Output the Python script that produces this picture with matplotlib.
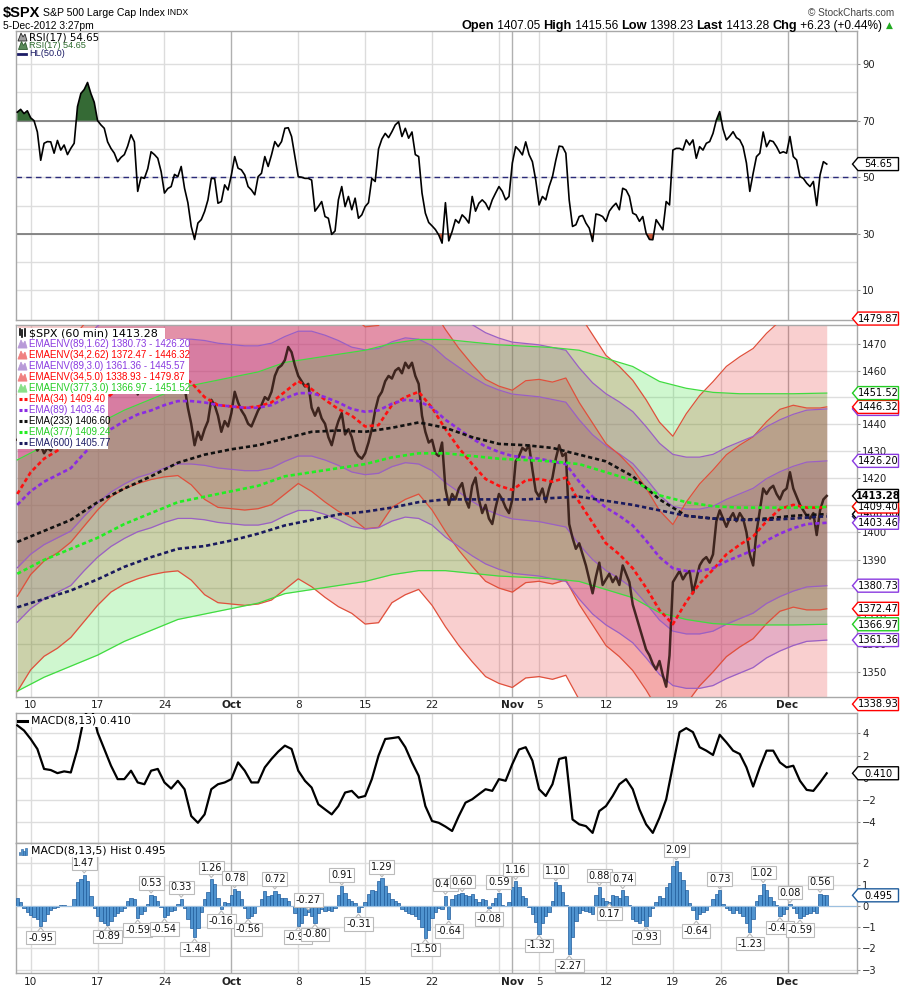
import numpy as np
import matplotlib
matplotlib.use("Agg")
import matplotlib.pyplot as plt
from matplotlib.patches import Polygon, Rectangle
from matplotlib.ticker import NullLocator, NullFormatter
from matplotlib.lines import Line2D

W, H, DPI = 900, 990, 100
SANS = ['Liberation Sans', 'DejaVu Sans']
plt.rcParams['font.family'] = ['DejaVu Sans']

# ---------------- data ----------------
# x axis: trading days since the Sep 7, 2012 open (Nov 23 half session = 4/7 day)
week_grid_t = [1, 6, 11, 16, 21, 26, 31, 36, 37, 39, 44, 49, 52.571, 57.571]
month_grid_t = [16, 37, 57.571]
date_tick_t = [1, 6, 11, 16, 21, 26, 31, 37, 39, 44, 49, 52.571, 57.571]
date_tick_lbl = ['10', '17', '24', 'Oct', '8', '15', '22', 'Nov', '5', '12', '19', '26', 'Dec']
month_lbls = ['Oct', 'Nov', 'Dec']

# $SPX 60-min, sampled every quarter trading day
price_q = [
    1434, 1436, 1435, 1437, 1436, 1433, 1430, 1432,
    1429, 1431, 1430, 1433, 1432, 1435, 1433, 1436,
    1435, 1437, 1450, 1457, 1460, 1466, 1472, 1466,
    1465, 1462, 1460, 1458, 1460, 1458, 1456, 1459,
    1460, 1462, 1463, 1460, 1451, 1455, 1457, 1458,
    1462, 1465, 1463, 1459, 1455, 1453, 1456, 1455,
    1458, 1462, 1454, 1446, 1440, 1432, 1437, 1434,
    1438, 1441, 1449, 1447, 1443, 1437, 1441, 1439,
    1444, 1452, 1448, 1445, 1443, 1440, 1439, 1442,
    1445, 1447, 1450, 1449, 1452, 1458, 1461, 1462,
    1464, 1469, 1467, 1462, 1458, 1456, 1454, 1455,
    1446, 1443, 1446, 1442, 1440, 1435, 1432, 1437,
    1441, 1444, 1436, 1438, 1435, 1430, 1428, 1427,
    1429, 1433, 1438, 1445, 1450, 1452, 1456, 1458,
    1457, 1460, 1461, 1459, 1463, 1461, 1463, 1458,
    1455, 1443, 1437, 1433, 1434, 1429, 1428, 1433,
    1416, 1410, 1414, 1412, 1416, 1418, 1412, 1409,
    1417, 1420, 1412, 1407, 1410, 1405, 1403, 1409,
    1414, 1412, 1409, 1407, 1412, 1426, 1428, 1431,
    1430, 1432, 1423, 1415, 1413, 1416, 1411, 1416,
    1420, 1427, 1432, 1428, 1429, 1403, 1398, 1394,
    1396, 1392, 1388, 1383, 1378, 1384, 1389, 1381,
    1383, 1385, 1382, 1384, 1381, 1388, 1385, 1382,
    1374, 1370, 1366, 1362, 1358, 1356, 1353, 1351,
    1354, 1349, 1345, 1356, 1382, 1384, 1386, 1383,
    1385, 1386, 1378, 1383, 1388, 1390, 1391, 1389,
    1392, 1404, 1408, 1405, 1402, 1405, 1407, 1404,
    1407, 1405, 1400, 1392, 1388, 1400, 1408, 1416,
    1414, 1416, 1417, 1414, 1412, 1415, 1416, 1422,
    1416, 1413, 1410, 1408, 1406, 1405, 1407, 1399,
    1408, 1412, 1413.28]

rsi_q = [
    73, 74, 72.5, 73.5, 71, 70, 66, 56,
    62, 62.6, 62.5, 58.5, 63, 59.6, 61.4, 58,
    60.2, 62, 75, 79.6, 81, 83.5, 79.6, 76.5,
    70, 68.5, 67.3, 62.5, 60.2, 58.5, 55.5, 57,
    58, 61, 65, 62.5, 45, 50, 49.6, 53,
    59, 58, 56.7, 52, 44.4, 46, 46.7, 51,
    50.2, 53.8, 46.1, 41, 32.6, 28, 33.8, 35,
    37.9, 42, 49.6, 49.5, 40.8, 41.4, 47.3, 45.5,
    50.8, 57.3, 53.2, 52.6, 50.8, 46.7, 45.5, 43.8,
    50.2, 51.4, 57.3, 53.8, 57.9, 62.6, 60.8, 62.6,
    67.3, 67.5, 64.4, 57.3, 50.2, 50, 49.6, 49.6,
    49, 38, 39.6, 41.4, 36.1, 35.5, 29.8, 31,
    42, 46.7, 39.6, 43.2, 38.5, 42.6, 35.5, 36.7,
    39.6, 41, 49.6, 48.5, 60, 63.5, 65.5, 64,
    66.1, 68.5, 69.6, 64.4, 67.3, 63.8, 66, 58,
    57.3, 44.4, 37.3, 34, 32.8, 31.5, 29.6, 26.7,
    41, 27.5, 30.8, 35, 33.8, 36.7, 35.5, 33.8,
    43.2, 38, 40.8, 42, 40.8, 38.5, 42, 44.4,
    46.7, 45, 42, 43.2, 55, 60.8, 59.6, 57.9,
    62.5, 58, 55.5, 49, 40.2, 43.2, 42, 46.7,
    50.2, 56, 61, 60.8, 58.5, 42, 32.6, 33.2,
    36.1, 36.5, 33.8, 32, 27.3, 37, 36.7, 36.1,
    34.4, 38, 39.6, 40.8, 38.5, 46.1, 45.5, 43.2,
    37.3, 36.7, 34.4, 36.1, 30.2, 28, 27.9, 35,
    33.2, 31.4, 41.4, 40.2, 59.6, 60.2, 60.2, 59.6,
    63.2, 61.4, 63.2, 56.7, 60.8, 59.6, 62, 62.6,
    65.5, 70.2, 73.2, 67, 63.2, 64.5, 66.1, 64,
    63.2, 60.8, 55, 45, 51.4, 57.3, 58.5, 66,
    60.8, 63, 62.6, 60.8, 58.5, 59, 58.5, 64.4,
    57.3, 56.1, 50.2, 49.6, 47.9, 46.7, 48.5, 40,
    50.8, 55.5, 54.65]

hist_q = [
    0.35, 0.2, -0.12, -0.27, -0.41, -0.51, -0.6, -0.95,
    -0.7, -0.38, -0.2, -0.11, -0.06, 0.02, 0.02, -0.03,
    0.0, 0.3, 1.1, 1.28, 1.47, 1.15, 0.45, -0.1,
    -0.5, -0.72, -0.8, -0.89, -0.7, -0.48, -0.33, -0.24,
    -0.08, 0.24, 0.37, 0.3, -0.59, -0.4, -0.25, 0.1,
    0.53, 0.47, 0.25, -0.05, -0.54, -0.42, -0.25, -0.18,
    0.08, 0.33, -0.12, -0.6, -1.05, -1.48, -1.05, -0.3,
    0.3, 0.65, 1.26, 1.05, 0.35, -0.16, 0.19, 0.15,
    0.53, 0.78, 0.7, 0.3, -0.1, -0.56, -0.48, -0.33,
    0.0, 0.3, 0.69, 0.45, 0.5, 0.72, 0.55, 0.37,
    0.37, 0.22, 0.0, -0.35, -0.93, -0.82, -0.42, -0.27,
    -0.5, -0.8, -0.35, -0.17, -0.25, -0.2, -0.25, -0.1,
    0.5, 0.91, 0.6, 0.3, 0.22, 0.12, -0.31, -0.05,
    0.2, 0.55, 0.73, 0.69, 1.15, 1.29, 0.95, 0.6,
    0.3, 0.22, 0.14, -0.17, -0.25, -0.33, -0.4, -0.48,
    -0.62, -0.98, -1.5, -1.15, -0.55, -0.28, -0.12, -0.17,
    0.47, -0.64, 0.3, 0.5, 0.58, 0.6, 0.52, 0.45,
    0.55, 0.3, 0.2, 0.33, 0.28, -0.08, 0.15, 0.37,
    0.59, 0.05, 0.0, 0.2, 0.9, 1.16, 0.9, 0.45,
    0.37, -0.05, -0.38, -0.78, -1.32, -0.8, -0.48, -0.3,
    0.25, 1.1, 1.0, 0.65, 0.05, -2.27, -1.45, -0.7,
    -0.35, -0.2, -0.25, -0.3, -0.4, 0.5, 0.88, 0.35,
    0.24, 0.17, 0.5, 0.45, 0.35, 0.74, 0.45, 0.05,
    -0.6, -0.72, -0.8, -0.65, -0.93, -0.5, -0.12, 0.2,
    0.45, 0.38, 0.9, 1.08, 1.86, 2.09, 1.6, 1.2,
    0.75, 0.15, -0.2, -0.64, -0.4, -0.3, -0.2, -0.02,
    0.3, 0.55, 0.73, 0.1, -0.1, -0.2, -0.35, -0.2,
    -0.33, -0.5, -0.8, -1.23, -0.6, 0.25, 0.5, 1.02,
    0.75, 0.42, 0.25, 0.05, -0.48, -0.38, -0.15, 0.08,
    -0.1, -0.35, -0.59, -0.48, -0.4, -0.33, -0.25, -0.33,
    0.56, 0.53, 0.495]

# MACD(8,13) line, sampled every half trading day
macd_h = [
    4.73, 4.27, 3.5, 2.6, 0.8, 0.7, 0.42, 0.58, 0.48, 2.6,
    5.5, 6.6, 4.1, 2.6, 1.1, -0.12, -0.12, 0.64, -0.42, -0.58,
    0.64, 0.8, -0.42, -0.97, -0.27, -1.03, -3.45, -4.06, -3.3, -1.03,
    -0.58, -0.42, -0.12, 1.39, 0.64, -0.42, -0.42, 0.94, 1.7, 2.36,
    2.9, 2.6, 0.64, -0.27, -0.88, -2.39, -2.85, -3.3, -2.55, -1.33,
    -1.18, -1.79, -1.64, -0.12, 2.0, 3.5, 3.58, 3.67, 2.76, 1.39,
    0.18, -2.55, -3.9, -4.06, -4.4, -4.8, -3.45, -2.24, -1.94, -1.48,
    -1.03, -1.18, -0.12, -0.27, 1.24, 2.55, 2.76, 1.55, -1.03, -1.64,
    -0.58, 1.7, 1.85, -3.76, -4.2, -4.36, -4.97, -3.0, -2.55, -1.64,
    -0.58, -0.12, -1.03, -2.85, -4.2, -4.97, -3.6, -1.94, 1.09, 4.12,
    4.48, 4.12, 2.76, 2.45, 2.06, 3.88, 3.2, 2.45, 2.15, 0.94,
    -0.79, 0.94, 2.45, 2.45, 1.39, 0.94, 1.09, -0.27, -1.09, -1.18,
    -0.42, 0.41]

# EMAs: daily samples (t = 0..60, 60.5)
ema34_d = [
    1414, 1422, 1427, 1430, 1434, 1440, 1446, 1451, 1454, 1456,
    1457.5, 1458.5, 1459, 1455.5, 1450, 1447, 1446.5, 1446, 1446.5, 1448,
    1452, 1456, 1453, 1449, 1445.5, 1443, 1439, 1439.5, 1447, 1450,
    1452, 1446, 1438, 1431, 1425, 1419.5, 1417, 1415.5, 1419, 1419.5,
    1418.5, 1420, 1411, 1403.5, 1396, 1392, 1387, 1380, 1372, 1367,
    1375, 1381.5, 1386.5, 1392, 1395.5, 1398.5, 1404, 1408.5, 1410, 1409,
    1409, 1409.4]
ema89_d = [
    1410, 1415, 1418.5, 1421, 1423.5, 1429, 1434, 1438, 1441, 1443.5,
    1445, 1447, 1448.5, 1448.5, 1448, 1447, 1446.5, 1446, 1446, 1447,
    1449.5, 1451.5, 1451.5, 1450, 1448, 1445.5, 1444.5, 1445, 1447.5, 1449,
    1448.5, 1446, 1441.5, 1438, 1434.5, 1431.5, 1429.5, 1428, 1427.5, 1427,
    1426, 1425, 1418.5, 1413, 1409, 1406, 1402.5, 1397, 1391, 1387,
    1386, 1386, 1387, 1389.5, 1391.5, 1393.5, 1397, 1399.5, 1401.5, 1403,
    1403.3, 1403.46]
# slow EMAs: every 2 trading days (t = 0, 2, ..., 60, 60.5)
ema233_2d = [1396.5, 1400.5, 1404.5, 1411, 1416, 1420.5, 1425.5, 1428.5, 1430.5, 1432,
             1434.5, 1437, 1437.5, 1437, 1438.5, 1440.5, 1438.5, 1435, 1432.5, 1432,
             1431, 1428.5, 1426, 1420.5, 1412, 1406, 1405, 1404.5, 1405, 1406,
             1406.5, 1406.6]
ema377_2d = [1385, 1390, 1394, 1398, 1403, 1407, 1411, 1413, 1415, 1417,
             1420.5, 1422, 1423.5, 1425, 1427.5, 1429, 1429, 1428, 1427, 1426.5,
             1426, 1425, 1422, 1419, 1413.5, 1411, 1409.5, 1409, 1409, 1409,
             1409.2, 1409.24]
ema600_2d = [1373, 1376, 1379, 1383, 1387.5, 1391, 1394, 1395, 1397, 1399.5,
             1402.5, 1404.5, 1406.5, 1407.5, 1409, 1411, 1412, 1412, 1412, 1412,
             1412.5, 1413, 1411.5, 1410, 1408, 1406, 1405, 1404.5, 1404.5, 1405,
             1405.7, 1405.77]

hist_lbl_t = [1.75, 5, 6.75, 9, 10, 11, 12.25, 13.25, 14.5, 15.25, 16.25, 17.25, 19.25,
              21, 21.75, 22.25, 24.25, 25.5, 27.25, 30.5, 32, 32.25, 33.25, 35.25, 36,
              37.25, 39, 40.25, 41.25, 43.5, 44.25, 45.25, 47, 49.25, 50.75, 52.5,
              54.75, 55.75, 57, 57.75, 58.5, 60]
hist_lbl_v = [-0.95, 1.47, -0.89, -0.59, 0.53, -0.54, 0.33, -1.48, 1.26, -0.16, 0.78, -0.56, 0.72,
              -0.93, -0.27, -0.80, 0.91, -0.31, 1.29, -1.50, 0.47, -0.64, 0.60, -0.08, 0.59,
              1.16, -1.32, 1.10, -2.27, 0.88, 0.17, 0.74, -0.93, 2.09, -0.64, 0.73,
              -1.23, 1.02, -0.48, 0.08, -0.59, 0.56]

env_names = ['EMAENV(89,1.62)', 'EMAENV(34,2.62)', 'EMAENV(89,3.0)', 'EMAENV(34,5.0)', 'EMAENV(377,3.0)']
env_base = ['89', '34', '89', '34', '377']
env_pct = [1.62, 2.62, 3.0, 5.0, 3.0]
env_last_lo = [1380.73, 1372.47, 1361.36, 1338.93, 1366.97]
env_last_hi = [1426.20, 1446.32, 1445.57, 1479.87, 1451.52]
ema_names = ['EMA(34)', 'EMA(89)', 'EMA(233)', 'EMA(377)', 'EMA(600)']
ema_last = [1409.40, 1403.46, 1406.60, 1409.24, 1405.77]
last_price = 1413.28
rsi_last = 54.65
macd_last = 0.410
hist_last = 0.495
price_ticks = [1350, 1360, 1370, 1380, 1390, 1400, 1410, 1420, 1430, 1440, 1450, 1460, 1470]
quote_parts = [('Open', '1407.05'), ('High', '1415.56'), ('Low', '1398.23'),
               ('Last', '1413.28'), ('Chg', '+6.23 (+0.44%)')]

# ---------------- styling ----------------
C_RED, C_PUR, C_GRN = '#E62828', '#9640C8', '#28DC28'
L_RED, L_PUR, L_GRN = '#E0503C', '#9A60C4', '#40DC40'
T_RED, T_PUR, T_GRN, T_NAVY = '#FF0000', '#8A3AE0', '#22CC22', '#1C1C66'
env_fill = {'89': C_PUR, '34': C_RED, '377': C_GRN}
env_line = {'89': L_PUR, '34': L_RED, '377': L_GRN}
env_text = {'89': T_PUR, '34': T_RED, '377': T_GRN}
env_icon = {'89': '#B89AD8', '34': '#F08080', '377': '#88E088'}
ema_colors = ['#FF1010', '#8A2BE2', '#111111', '#22EE22', '#1A1A5E']

tq = np.arange(len(price_q)) * 0.25
th = np.arange(len(macd_h)) * 0.5
td = np.r_[np.arange(61), 60.5]
t2d = np.r_[np.arange(0, 61, 2), 60.5]
price = np.array(price_q, float)
rsi = np.array(rsi_q, float)
hist = np.array(hist_q, float)
macd = np.array(macd_h, float)
ema_series = [(td, np.array(ema34_d)), (td, np.array(ema89_d)), (t2d, np.array(ema233_2d)),
              (t2d, np.array(ema377_2d)), (t2d, np.array(ema600_2d))]
base_map = {'34': ema_series[0], '89': ema_series[1], '377': ema_series[3]}

fig = plt.figure(figsize=(W / DPI, H / DPI), dpi=DPI)
fig.patch.set_facecolor('white')
X0, X1 = 16.0, 856.7
XLIM = (-0.097, 62.74)


def panel(top, bottom, log=False):
    ax = fig.add_axes([X0 / W, 1 - bottom / H, (X1 - X0) / W, (bottom - top) / H])
    if log:
        ax.set_yscale('log')
    ax.set_xlim(*XLIM)
    for s in ax.spines.values():
        s.set_color('#A8A8A8')
        s.set_linewidth(1)
    for t in week_grid_t:
        ax.axvline(t, color='#B0B0B0' if t in month_grid_t else '#DCDCDC', lw=1, zorder=0.6)
    ax.yaxis.tick_right()
    ax.tick_params(axis='y', which='both', left=False, right=True, length=2.5, width=0.8,
                   color='#999999', pad=1.5, labelsize=7.2, labelcolor='#222222')
    ax.set_xticks([])
    return ax


def hgrid(ax, vals):
    for v in vals:
        ax.axhline(v, color='#DEDEDE', lw=1, zorder=0.5)


# ---- RSI panel ----
axr = panel(31, 319.5)
axr.set_ylim(-0.3, 101.7)
hgrid(axr, range(10, 100, 10))
axr.set_yticks([10, 30, 50, 70, 90])
axr.axhline(70, color='#757575', lw=1.2, zorder=2)
axr.axhline(30, color='#757575', lw=1.2, zorder=2)
axr.axhline(50, color='#2B2B7A', lw=1, dashes=(4, 3), zorder=2)
axr.fill_between(tq, rsi, 70, where=rsi > 70, interpolate=True, color='#356A35', lw=0, zorder=3)
axr.fill_between(tq, rsi, 30, where=rsi < 30, interpolate=True, color='#C95A3C', lw=0, zorder=3)
axr.plot(tq, rsi, color='black', lw=1.2, zorder=4)

# ---- price panel ----
axm = panel(325, 697, log=True)
axm.set_ylim(1341.4, 1477.4)
hgrid(axm, price_ticks)
axm.set_yticks(price_ticks)
axm.set_yticklabels([str(v) for v in price_ticks])
axm.yaxis.set_minor_locator(NullLocator())
axm.yaxis.set_minor_formatter(NullFormatter())
for b, p in zip(env_base, env_pct):
    t, e = base_map[b]
    lo, hi = e * (1 - p / 100), e * (1 + p / 100)
    axm.fill_between(t, lo, hi, color=env_fill[b], alpha=0.22, lw=0, zorder=2)
    axm.plot(t, lo, color=env_line[b], lw=0.9, zorder=3)
    axm.plot(t, hi, color=env_line[b], lw=0.9, zorder=3)
axm.plot(tq, price, color='#2A120C', lw=1.8, alpha=0.85, zorder=4)
for (t, e), c in zip(ema_series, ema_colors):
    axm.plot(t, e, color=c, lw=1.9, dashes=(1.6, 1.1), zorder=6)
axm.set_xticks(date_tick_t)
axm.set_xticklabels(date_tick_lbl)
axm.tick_params(axis='x', length=0, pad=2.5, labelsize=7.6, labelcolor='#222222')

# ---- MACD panel ----
axc = panel(713.3, 843.3)
axc.set_ylim(-5.91, 5.82)
hgrid(axc, [-4, -2, 0, 2, 4])
axc.set_yticks([-4, -2, 0, 2, 4])
axc.plot(th, macd, color='black', lw=1.6, zorder=4)

# ---- Histogram panel ----
axh = panel(843.3, 973.3)
axh.set_ylim(-3.17, 2.94)
hgrid(axh, [-3, -2, -1, 0, 1, 2])
axh.set_yticks([-3, -2, -1, 0, 1, 2])
axh.bar(tq, hist, width=0.25, color='#4F93CF', edgecolor='#1F5C9C', lw=0.5, zorder=3)
axh.axhline(0, color='#9CC0E0', lw=0.8, zorder=3.5)
axh.set_xticks(date_tick_t)
axh.set_xticklabels(date_tick_lbl)
axh.tick_params(axis='x', length=0, pad=3, labelsize=7.6, labelcolor='#222222')

for ax in (axm, axh):
    for lbl in ax.get_xticklabels():
        if lbl.get_text() in month_lbls:
            lbl.set_fontweight('bold')

# ---------------- overlay (pixel coords) ----------------
ov = fig.add_axes([0, 0, 1, 1], zorder=10)
ov.set_xlim(0, W)
ov.set_ylim(H, 0)
ov.axis('off')
renderer = fig.canvas.get_renderer()


def ypix(ax, v):
    return H - ax.transData.transform((1.0, v))[1]


def xpix(ax, t):
    return ax.transData.transform((t, 1.0))[0]


zc = [30]


def tag(y, txt, ec, bold=False):
    z = zc[0]
    zc[0] += 2
    ov.add_patch(Polygon([(852.5, y), (858, y - 6.5), (898.5, y - 6.5), (898.5, y + 6.5), (858, y + 6.5)],
                         closed=True, fc='white', ec=ec, lw=1.0, zorder=z))
    ov.text(878.5, y + 0.3, txt, ha='center', va='center', fontsize=7.1, color='black',
            fontweight='bold' if bold else 'normal', zorder=z + 1)


def seq(x, y, pieces, align='left'):
    """pieces: list of (text, kwargs); placed one after another."""
    objs = [ov.text(0, y, s, va='center', **kw) for s, kw in pieces]
    ws = [o.get_window_extent(renderer).width for o in objs]
    if align == 'right':
        x = x - sum(ws)
    for o, w in zip(objs, ws):
        o.set_x(x)
        x += w
    return x


# RSI / MACD / Hist tags
tag(ypix(axr, rsi_last), f'{rsi_last:.2f}', 'black')
tag(ypix(axc, macd_last), f'{macd_last:.3f}', 'black')
tag(ypix(axh, hist_last), f'{hist_last:.3f}', '#1F5C9C')

# price panel tags (drawing order decides overlaps)
ptags = [
    (ema_last[4], ema_colors[4]), (ema_last[3], T_GRN), (env_last_hi[2], T_PUR),
    (ema_last[2], 'black'), (ema_last[0], T_RED), (ema_last[1], T_PUR),
    (env_last_hi[0], T_PUR), (env_last_hi[1], T_RED), (env_last_hi[4], T_GRN),
    (env_last_hi[3], T_RED), (env_last_lo[0], T_PUR), (env_last_lo[1], T_RED),
    (env_last_lo[4], T_GRN), (env_last_lo[2], T_PUR), (env_last_lo[3], T_RED),
]
for v, c in ptags:
    tag(ypix(axm, v), f'{v:.2f}', c)
tag(ypix(axm, last_price), f'{last_price:.2f}', 'black', bold=True)

# histogram peak labels
for lt, lv in zip(hist_lbl_t, hist_lbl_v):
    i = int(round(lt / 0.25))
    nb = [hist[j] for j in (i - 1, i + 1) if 0 <= j < len(hist)]
    up = lv >= max(nb)
    x = xpix(axh, lt)
    yb = ypix(axh, lv)
    s = -1 if up else 1
    ov.add_patch(Polygon([(x - 4, yb + s * 6.5), (x, yb + s * 1.5), (x + 4, yb + s * 6.5)],
                         closed=True, fc='white', ec='#BBBBBB', lw=0.8, zorder=12))
    ov.text(x, yb + s * 11.5, f'{lv:.2f}', ha='center', va='center', fontsize=7, color='#111111',
            zorder=13, bbox=dict(boxstyle='square,pad=0.18', fc='white', ec='#BBBBBB', lw=0.8))


def mountain(x, y, fc, ec):
    ov.add_patch(Polygon([(x, y + 4), (x + 3, y - 4), (x + 5, y), (x + 7, y - 3), (x + 9, y + 4)],
                         closed=True, fc=fc, ec=ec, lw=0.6, zorder=15))


def dashes_icon(x, y, c):
    ov.add_line(Line2D([x, x + 3], [y, y], color=c, lw=2.2, zorder=15, solid_capstyle='butt'))
    ov.add_line(Line2D([x + 5, x + 8], [y, y], color=c, lw=2.2, zorder=15, solid_capstyle='butt'))


def white_row(y, x1):
    ov.add_patch(Rectangle((17, y - 5.5), x1 - 17, 11, fc='white', ec='none', zorder=14))


# RSI legend
mountain(18, 37, '#A0A0A0', '#222222')
ov.text(29, 37, f'RSI(17) {rsi_last:.2f}', fontsize=7.4, va='center', color='black', zorder=16)
mountain(18.5, 45.5, '#5A8A5A', '#2E5A2E')
ov.text(29, 45.5, f'RSI(17) {rsi_last:.2f}', fontsize=6.6, family=SANS, va='center', color='#2E6B2E', zorder=16)
ov.add_line(Line2D([18, 26], [53.5, 53.5], color=T_NAVY, lw=2, zorder=15))
ov.text(29, 53.5, 'HL(50.0)', fontsize=6.6, family=SANS, va='center', color=T_NAVY, zorder=16)

# price legend
rows_y = [333 + 11.03 * i for i in range(11)]
y = rows_y[0]
white_row(y, 165)
for k, (hh, ll) in enumerate([(4, -2), (3, -4), (4, -3)]):
    ov.add_line(Line2D([19.5 + 2.5 * k, 19.5 + 2.5 * k], [y - hh, y - ll], color='black', lw=1.2, zorder=15))
ov.text(29, y, f'$SPX (60 min) {last_price:.2f}', fontsize=8.0, va='center', color='black', zorder=16)
for i, (nm, b) in enumerate(zip(env_names, env_base)):
    y = rows_y[1 + i]
    txt = f'{nm} {env_last_lo[i]:.2f} - {env_last_hi[i]:.2f}'
    white_row(y, 189)
    mountain(18, y, env_icon[b], env_icon[b])
    ov.text(29, y, txt, fontsize=7.0, family=SANS, va='center', color=env_text[b], zorder=16)
ema_txt_col = [T_RED, T_PUR, 'black', T_GRN, T_NAVY]
for i, nm in enumerate(ema_names):
    y = rows_y[6 + i]
    white_row(y, 108)
    dashes_icon(18.5, y, ema_colors[i])
    ov.text(29, y, f'{nm} {ema_last[i]:.2f}', fontsize=7.0, family=SANS, va='center',
            color=ema_txt_col[i], zorder=16)

# MACD legends
ov.add_line(Line2D([18, 27], [720.5, 720.5], color='black', lw=2.2, zorder=15))
ov.text(31, 720.5, f'MACD(8,13) {macd_last:.3f}', fontsize=7.8, va='center', color='black', zorder=16,
        bbox=dict(boxstyle='square,pad=0.1', fc='white', ec='none'))
for k, hh in enumerate([3, 6, 4, 7]):
    ov.add_patch(Rectangle((18.5 + 2.2 * k, 854.5 - hh), 1.8, hh, fc='#4F93CF', ec='#1F5C9C', lw=0.4, zorder=15))
ov.text(31, 850.7, f'MACD(8,13,5) Hist {hist_last:.3f}', fontsize=7.8, va='center', color='black', zorder=16,
        bbox=dict(boxstyle='square,pad=0.1', fc='white', ec='none'))

# header
seq(3, 12.5, [('$SPX', dict(fontsize=10.5, fontweight='bold', family=SANS, color='black')),
              (' S&P 500 Large Cap Index', dict(fontsize=7.6, family=SANS, color='black')),
              (' INDX', dict(fontsize=6.2, family=SANS, color='black'))])
ov.text(894, 12.5, '\u00a9 StockCharts.com', fontsize=7.2, family=SANS, va='center', ha='right', color='#444444')
ov.text(3, 26, '5-Dec-2012 3:27pm', fontsize=7.4, family=SANS, va='center', color='black')
pieces = []
for k, (lab, val) in enumerate(quote_parts):
    pieces.append((lab, dict(fontsize=9.2, fontweight='bold', family=SANS, color='black')))
    pieces.append((' ' + val + ' ', dict(fontsize=8.6, family=SANS, color='black')))
seq(885, 26, pieces, align='right')
ov.text(885.5, 25.5, '\u25b2', fontsize=6.5, va='center', ha='left', color='#22AA22')

fig.savefig('out.png', dpi=DPI, facecolor='white')
